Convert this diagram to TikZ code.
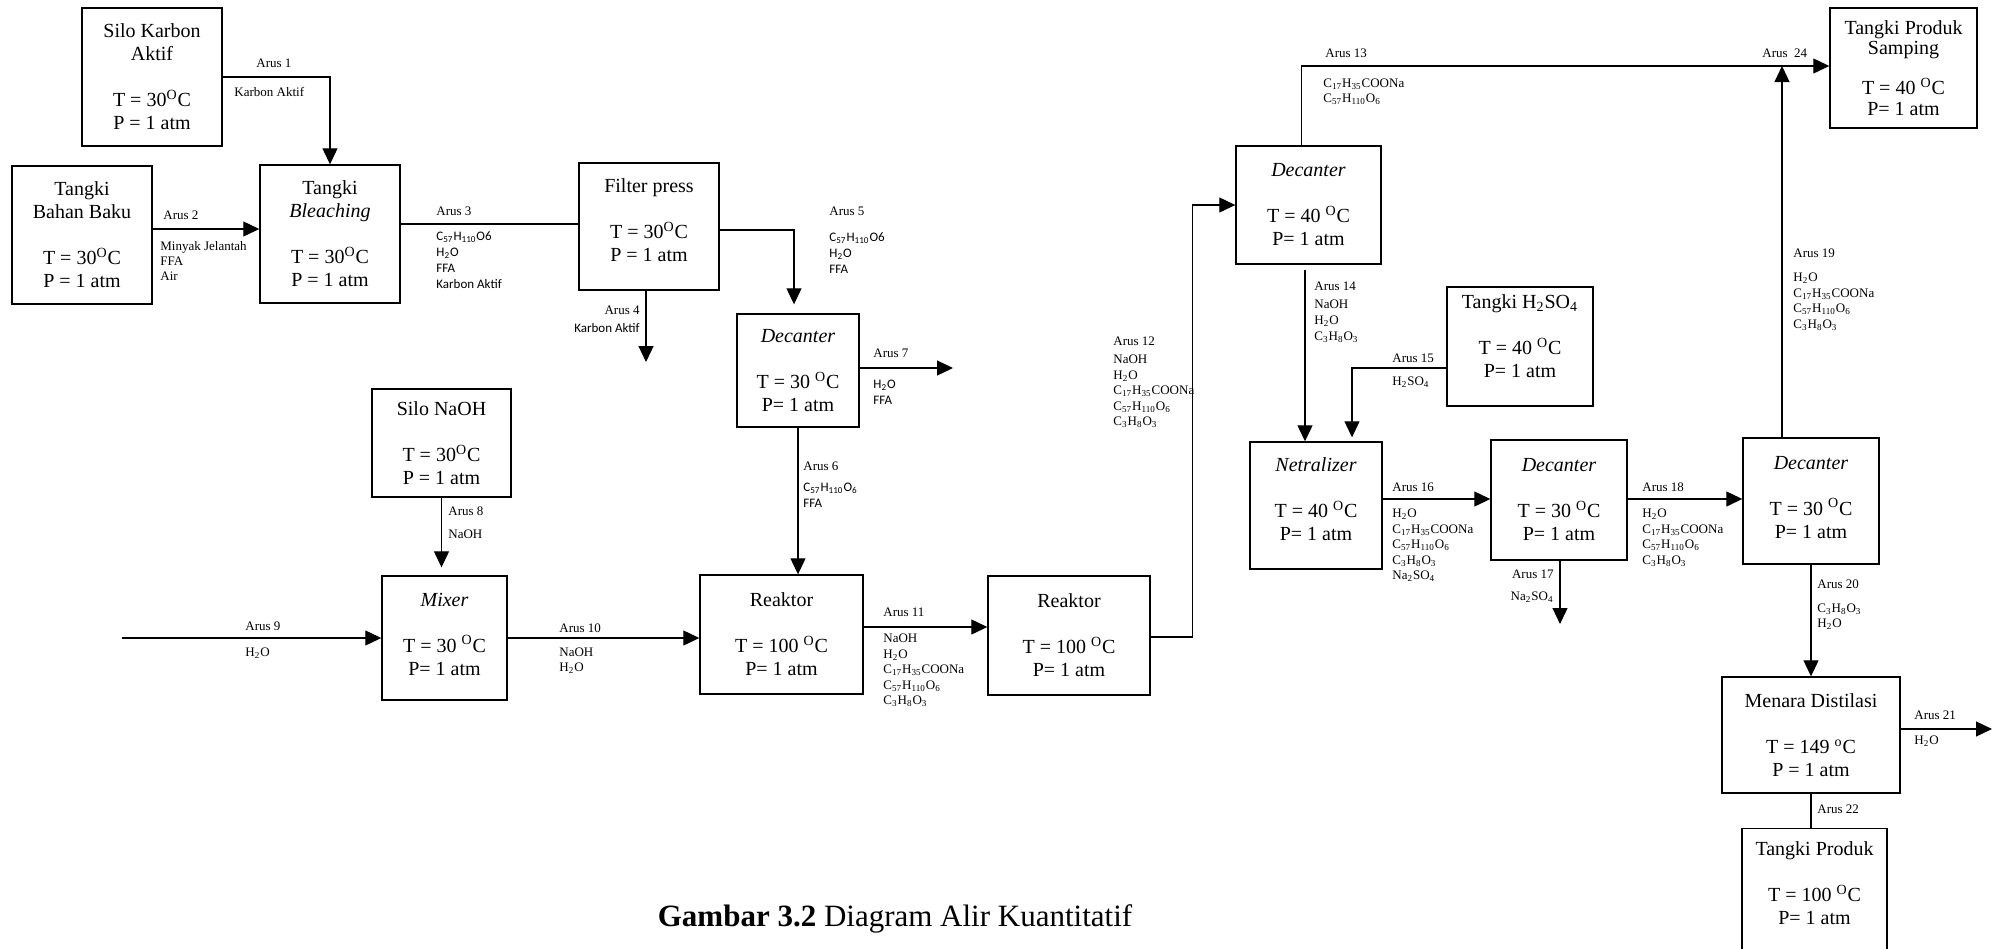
\documentclass[tikz,border=0pt]{standalone}
\usepackage{fontspec}
\setmainfont{Liberation Serif}
\newfontfamily\calibri{Carlito}
\usetikzlibrary{arrows.meta, calc}

\newcommand{\hdua}{H\textsubscript{2}O}
\newcommand{\trigli}{C\textsubscript{57}H\textsubscript{110}O\textsubscript{6}}
\newcommand{\sabun}{C\textsubscript{17}H\textsubscript{35}COONa}
\newcommand{\gliserol}{C\textsubscript{3}H\textsubscript{8}O\textsubscript{3}}
\newcommand{\nasulfat}{Na\textsubscript{2}SO\textsubscript{4}}
\newcommand{\asulfat}{H\textsubscript{2}SO\textsubscript{4}}
\newcommand{\derajat}{\textsuperscript{O}C}

\begin{document}
\begin{tikzpicture}[
    x=0.5pt, y=-0.5pt,
    alat/.style={draw, line width=0.7pt, fill=white, align=center, inner sep=0pt, font=\fontsize{10}{11.5}\selectfont},
    arus/.style={-{Triangle[length=8pt, width=7.5pt]}, line width=0.6pt},
    garis/.style={line width=0.6pt},
    lbl/.style={inner sep=0pt, align=left, font=\fontsize{6.5}{7.8}\selectfont},
    lblsf/.style={inner sep=0pt, align=left, font=\calibri\fontsize{6.5}{8}\selectfont}
]
\useasboundingbox (0,0) rectangle (1997,948);
\clip (0,0) rectangle (1997,948);

% Peralatan
\node[alat, minimum width=70pt, minimum height=69pt] (sk) at (152,77) {Silo Karbon\\Aktif\\[11.5pt]T = 30\derajat\\P = 1 atm};
\node[alat, minimum width=70pt, minimum height=69pt] (tbb) at (82,235) {Tangki\\Bahan Baku\\[11.5pt]T = 30\derajat\\P = 1 atm};
\node[alat, minimum width=70pt, minimum height=69pt] (bl) at (330,234) {Tangki\\\textit{Bleaching}\\[11.5pt]T = 30\derajat\\P = 1 atm};
\node[alat, minimum width=70pt, minimum height=63.5pt, text depth=6pt] (fp) at (649,226.5) {Filter press\\[11.5pt]T = 30\derajat\\P = 1 atm};
\node[alat, minimum width=61pt, minimum height=56.5pt] (dc1) at (798,370.5) {\textit{Decanter}\\[11.5pt]T = 30 \derajat\\P= 1 atm};
\node[alat, minimum width=69.5pt, minimum height=54pt] (sn) at (441.5,443) {Silo NaOH\\[11.5pt]T = 30\derajat\\P = 1 atm};
\node[alat, minimum width=62.5pt, minimum height=62pt, text depth=4pt] (mx) at (444.5,638) {\textit{Mixer}\\[11.5pt]T = 30 \derajat\\P= 1 atm};
\node[alat, minimum width=81.5pt, minimum height=59.5pt] (r1) at (781.5,634.5) {Reaktor\\[11.5pt]T = 100 \derajat\\P= 1 atm};
\node[alat, minimum width=81pt, minimum height=59.5pt] (r2) at (1069,635.5) {Reaktor\\[11.5pt]T = 100 \derajat\\P= 1 atm};
\node[alat, minimum width=72.5pt, minimum height=59pt] (dc2) at (1308.5,205) {\textit{Decanter}\\[11.5pt]T = 40 \derajat\\P= 1 atm};
\node[alat, minimum width=73pt, minimum height=59.5pt, text depth=10pt] (th) at (1520,346.5) {Tangki \asulfat\\[11.5pt]T = 40 \derajat\\P= 1 atm};
\node[alat, minimum width=66pt, minimum height=63.5pt, text depth=6pt] (nt) at (1316,505.5) {\textit{Netralizer}\\[11.5pt]T = 40 \derajat\\P= 1 atm};
\node[alat, minimum width=68pt, minimum height=60pt] (dc3) at (1559,500) {\textit{Decanter}\\[11.5pt]T = 30 \derajat\\P= 1 atm};
\node[alat, minimum width=68pt, minimum height=63pt, text depth=4pt] (dc4) at (1811,501) {\textit{Decanter}\\[11.5pt]T = 30 \derajat\\P= 1 atm};
\node[alat, minimum width=73.5pt, minimum height=60pt] (tps) at (1903.5,68) {Tangki Produk\\[-1.5pt]Samping\\[8.5pt]T = 40 \derajat\\[-1pt]P= 1 atm};
\node[alat, minimum width=89pt, minimum height=58pt] (md) at (1811,735) {Menara Distilasi\\[11.5pt]T = 149 \textsuperscript{o}C\\P = 1 atm};
\node[alat, minimum width=72.5pt, minimum height=75pt, text depth=20pt] (tp) at (1814.5,903.5) {Tangki Produk\\[11.5pt]T = 100 \derajat\\P= 1 atm};

% Arus
\coordinate (a4) at (646,362);
\coordinate (a7) at (953,368);
\coordinate (a9) at (122,638);
\coordinate (j24) at (1782,66);
\coordinate (a17) at (1560,624);
\coordinate (a21) at (1992,729);

\draw[arus] (sk.east) -| (bl.north);
\draw[arus] (tbb.east |- 0,229) -- (bl.west |- 0,229);
\draw[garis] (bl.east |- 0,224) -- (fp.west |- 0,224);
\draw[arus] (fp.south -| a4) -- (a4);
\draw[arus, shorten >=4.5pt] (fp.east |- 0,230) -| ($(dc1.north)+(-4,0)$);
\draw[arus] (dc1.south) -- (dc1.south |- r1.north);
\draw[arus] (dc1.east |- a7) -- (a7);
\draw[arus, shorten >=4pt] (sn.south) -- (sn.south |- mx.north);
\draw[arus] (a9) -- (mx.west);
\draw[arus] (mx.east) -- (r1.west |- mx.east);
\draw[arus] (r1.east |- 0,627) -- (r2.west |- 0,627);
\draw[arus] (r2.east |- 0,637) -- ++(42,0) |- (dc2.west);
\draw[arus] ($(dc2.north)+(-7,0)$) |- (tps.west |- j24);
\draw[arus] (dc4.north -| j24) -- (j24);
\draw[arus, shorten <=2.5pt] ($(dc2.south)+(-3.5,0)$) -- ($(dc2.south |- nt.north)+(-3.5,0)$);
\draw[arus, shorten >=2pt] (th.west |- 0,368) -| ($(nt.north)+(36,0)$);
\draw[arus] (nt.east |- 0,499) -- (dc3.west |- 0,499);
\draw[arus] (dc3.south -| a17) -- (a17);
\draw[arus] (dc3.east |- 0,499) -- (dc4.west |- 0,499);
\draw[arus] (dc4.south) -- (md.north);
\draw[arus] (md.east |- a21) -- (a21);
\draw[garis] (md.south) -- (md.south |- tp.north);

% Keterangan arus
\node[lbl, anchor=west] (l1) at (256,63) {Arus 1};
\node[lbl, anchor=west] (k1) at (234,92) {Karbon Aktif};
\node[lbl, anchor=west] (l2) at (163,215) {Arus 2};
\node[lbl, anchor=north west, font=\fontsize{6.5}{7.5}\selectfont] (k2) at (160,241.5) {Minyak Jelantah\\FFA\\Air};
\node[lbl, anchor=west] (l3) at (436,211) {Arus 3};
\node[lblsf, anchor=north west] (k3) at (436,231.5) {C\textsubscript{57}H\textsubscript{110}O6\\\hdua\\FFA\\Karbon Aktif};
\node[lbl, anchor=east] (l4) at (640,310) {Arus 4};
\node[lblsf, anchor=east] (k4) at (640,328) {Karbon Aktif};
\node[lbl, anchor=west] (l5) at (829,211) {Arus 5};
\node[lblsf, anchor=north west] (k5) at (829,232.5) {C\textsubscript{57}H\textsubscript{110}O6\\\hdua\\FFA};
\node[lbl, anchor=west] (l6) at (803,466) {Arus 6};
\node[lblsf, anchor=north west] (k6) at (803,482.5) {\trigli\\FFA};
\node[lbl, anchor=west] (l7) at (873,353) {Arus 7};
\node[lblsf, anchor=north west] (k7) at (873,379.5) {\hdua\\FFA};
\node[lbl, anchor=west] (l8) at (448,511) {Arus 8};
\node[lbl, anchor=west] (k8) at (448,534) {NaOH};
\node[lbl, anchor=west] (l9) at (245,626) {Arus 9};
\node[lbl, anchor=west] (k9) at (245,653) {\hdua};
\node[lbl, anchor=west] (l10) at (559,628) {Arus 10};
\node[lbl, anchor=north west, font=\fontsize{6.5}{7.5}\selectfont] (k10) at (559,647.5) {NaOH\\\hdua};
\node[lbl, anchor=west] (l11) at (883,612) {Arus 11};
\node[lbl, anchor=north west] (k11) at (883,633.5) {NaOH\\\hdua\\\sabun\\\trigli\\\gliserol};
\node[lbl, anchor=west] (l12) at (1113,341) {Arus 12};
\node[lbl, anchor=north west] (k12) at (1113,354.5) {NaOH\\\hdua\\\sabun\\\trigli\\\gliserol};
\node[lbl, anchor=west] (l13) at (1325,53) {Arus 13};
\node[lbl, anchor=north west, font=\fontsize{6.5}{7.5}\selectfont] (k13) at (1323,78.5) {\sabun\\\trigli};
\node[lbl, anchor=west] (l14) at (1314,286) {Arus 14};
\node[lbl, anchor=north west, font=\fontsize{6.5}{8}\selectfont] (k14) at (1314,299.5) {NaOH\\\hdua\\\gliserol};
\node[lbl, anchor=west] (l15) at (1392,358) {Arus 15};
\node[lbl, anchor=west] (k15) at (1392,382) {\asulfat};
\node[lbl, anchor=west] (l16) at (1392,487) {Arus 16};
\node[lbl, anchor=north west] (k16) at (1392,508.5) {\hdua\\\sabun\\\trigli\\\gliserol\\\nasulfat};
\node[lbl, anchor=east] (l17) at (1554,574) {Arus 17};
\node[lbl, anchor=east] (k17) at (1554,597) {\nasulfat};
\node[lbl, anchor=west] (l18) at (1642,487) {Arus 18};
\node[lbl, anchor=north west] (k18) at (1642,508.5) {\hdua\\\sabun\\\trigli\\\gliserol};
\node[lbl, anchor=west] (l19) at (1793,253) {Arus 19};
\node[lbl, anchor=north west] (k19) at (1793,272.5) {\hdua\\\sabun\\\trigli\\\gliserol};
\node[lbl, anchor=west] (l20) at (1817,584) {Arus 20};
\node[lbl, anchor=north west, font=\fontsize{6.5}{7.5}\selectfont] (k20) at (1817,603.5) {\gliserol\\\hdua};
\node[lbl, anchor=west] (l21) at (1914,715) {Arus 21};
\node[lbl, anchor=west] (k21) at (1914,741) {\hdua};
\node[lbl, anchor=west] (l22) at (1817,809) {Arus 22};
\node[lbl, anchor=west] (l24) at (1762,53) {Arus\ \ 24};

% Judul
\node[anchor=base, inner sep=0pt, font=\fontsize{15.5}{18}\selectfont] (judul) at (895,926) {\textbf{Gambar 3.2} Diagram Alir Kuantitatif};

\end{tikzpicture}
\end{document}
